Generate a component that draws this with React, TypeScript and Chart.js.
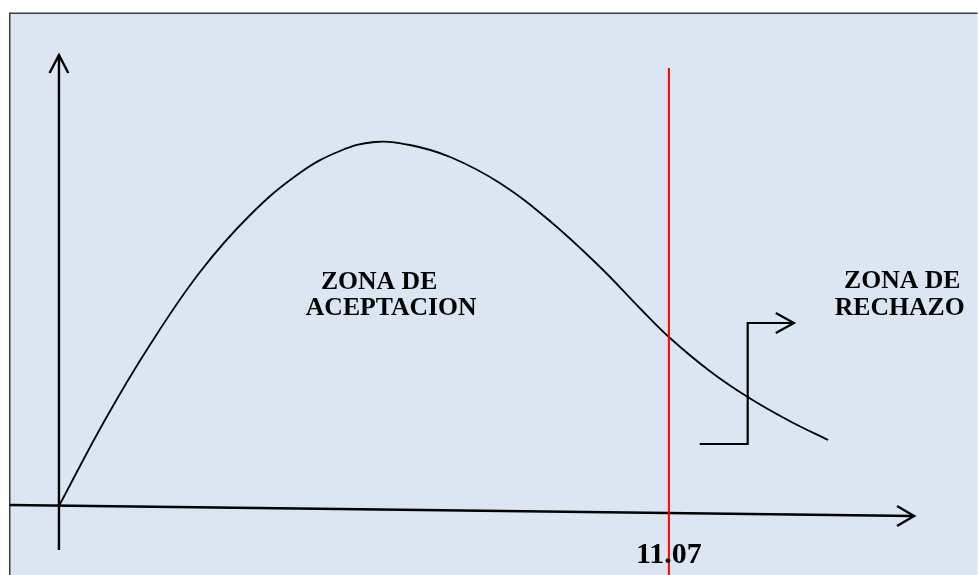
import React, { useEffect, useRef } from "react";
import { Chart, registerables } from "chart.js";

Chart.register(...registerables);

// Curve of the distribution (x in statistic units, y in density-like units)
const curveX = [0, 0.835, 1.65, 2.56, 3.47, 4.37, 5.1, 5.73, 6.37, 7.1, 8.0, 8.91, 9.82, 10.54, 11.07, 11.81, 12.5, 13.26, 13.96];
const curveY = [0, 0.86, 1.61, 2.34, 2.91, 3.33, 3.55, 3.64, 3.61, 3.49, 3.23, 2.85, 2.39, 1.98, 1.69, 1.35, 1.09, 0.85, 0.66];

// Critical value
const criticalValue = 11.07;
const criticalLineY = [4.38, -0.69];

// Axes (hand-drawn arrows)
const xAxisX = [-0.89, 15.52];
const xAxisY = [0.01, -0.1];
const xArrowX = [15.21, 15.52, 15.21];
const xArrowY = [0.0, -0.1, -0.2];
const yAxisX = [0, 0];
const yAxisY = [-0.44, 4.51];
const yArrowX = [-0.17, 0, 0.17];
const yArrowY = [4.33, 4.51, 4.33];

// Step arrow pointing into the rejection zone
const stepX = [11.63, 12.5, 12.5, 13.34];
const stepY = [0.62, 0.62, 1.83, 1.83];
const stepHeadX = [13.01, 13.34, 13.01];
const stepHeadY = [1.93, 1.83, 1.73];

// Labels
const labelTexts = ["ZONA DE", "ACEPTACION", "ZONA DE", "RECHAZO"];
const labelX = [4.755, 4.48, 14.25, 14.08];
const labelY = [2.17, 1.91, 2.18, 1.91];
const criticalLabel = "11.07";
const criticalLabelY = -0.57;

const pts = (xs: number[], ys: number[]) => xs.map((x, i) => ({ x, y: ys[i] }));

export default function App() {
  const ref = useRef<HTMLCanvasElement | null>(null);

  useEffect(() => {
    if (!ref.current) return;

    const framePlugin = {
      id: "frame",
      beforeDraw(chart: any) {
        const ctx = chart.ctx;
        ctx.save();
        ctx.fillStyle = "#ffffff";
        ctx.fillRect(0, 0, chart.width, chart.height);
        ctx.fillStyle = "#dce6f2";
        ctx.fillRect(10, 13, 967.5, chart.height - 13);
        ctx.strokeStyle = "#3a3a3a";
        ctx.lineWidth = 1.5;
        ctx.beginPath();
        ctx.moveTo(9.75, chart.height);
        ctx.lineTo(9.75, 13.25);
        ctx.lineTo(977.5, 13.25);
        ctx.stroke();
        ctx.restore();
      },
    };

    const textPlugin = {
      id: "texts",
      afterDatasetsDraw(chart: any) {
        const ctx = chart.ctx;
        const xs = chart.scales.x;
        const ys = chart.scales.y;
        ctx.save();
        ctx.fillStyle = "#000000";
        ctx.textBaseline = "alphabetic";
        ctx.textAlign = "left";
        ctx.font = 'bold 25.7px "Liberation Serif", "Times New Roman", serif';
        labelTexts.forEach((t, i) => {
          ctx.fillText(t, xs.getPixelForValue(labelX[i]), ys.getPixelForValue(labelY[i]));
        });
        ctx.textAlign = "center";
        ctx.font = 'bold 30px "Liberation Serif", "Times New Roman", serif';
        ctx.fillText(criticalLabel, xs.getPixelForValue(criticalValue), ys.getPixelForValue(criticalLabelY));
        ctx.restore();
      },
    };

    const black = "#000000";
    const lineDs = (data: any[], color: string, width: number, order: number, extra: any = {}) => ({
      data,
      borderColor: color,
      borderWidth: width,
      pointRadius: 0,
      fill: false,
      tension: 0,
      order,
      borderJoinStyle: "miter",
      borderCapStyle: "butt",
      ...extra,
    });

    const chart = new Chart(ref.current, {
      type: "line",
      data: {
        datasets: [
          lineDs(pts([criticalValue, criticalValue], criticalLineY), "#ff0000", 2, 0),
          lineDs(pts(stepX, stepY), black, 2.2, 1),
          lineDs(pts(stepHeadX, stepHeadY), black, 2.2, 1),
          lineDs(pts(curveX, curveY), black, 1.8, 2, { tension: 0.4, borderJoinStyle: "round" }),
          lineDs(pts(xAxisX, xAxisY), black, 2.4, 3),
          lineDs(pts(xArrowX, xArrowY), black, 2.4, 3),
          lineDs(pts(yAxisX, yAxisY), black, 2.4, 3),
          lineDs(pts(yArrowX, yArrowY), black, 2.4, 3),
        ] as any,
      },
      options: {
        animation: false,
        responsive: false,
        devicePixelRatio: 1,
        layout: { padding: 0 },
        parsing: false as any,
        plugins: { legend: { display: false }, tooltip: { enabled: false } },
        events: [],
        scales: {
          x: { type: "linear", min: -1.07, max: 16.68, display: false },
          y: { type: "linear", min: -0.69, max: 5.06, display: false },
        },
      },
      plugins: [framePlugin, textPlugin],
    });

    return () => chart.destroy();
  }, []);

  return (
    <div style={{ position: "fixed", left: 0, top: 0, width: 978, height: 575 }}>
      <canvas ref={ref} width={978} height={575} style={{ display: "block", width: 978, height: 575 }} />
    </div>
  );
}
